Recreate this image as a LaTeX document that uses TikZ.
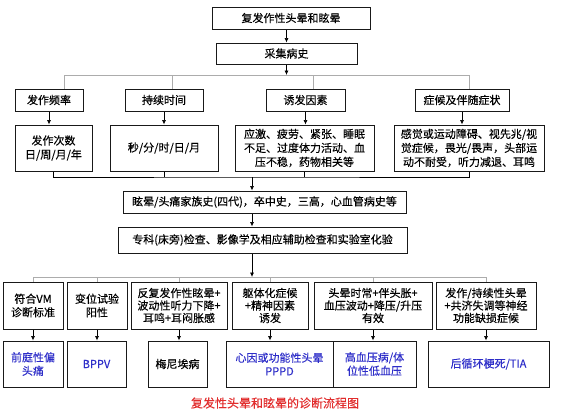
\documentclass[tikz,border=0pt]{standalone}
\usepackage{fontspec}
\setmainfont{Noto Sans CJK SC}[FakeBold=0.3]
\usetikzlibrary{arrows.meta}
\definecolor{zdblue}{RGB}{45,45,200}
\definecolor{btred}{RGB}{225,45,45}

\begin{document}
\begin{tikzpicture}[x=1pt,y=-1pt,
    kuang/.style={draw=black!90,line width=1pt,align=center,inner sep=1pt,
        font=\fontsize{11}{13.5}\selectfont},
    jt/.style={-{Latex[length=4.5pt,width=4pt]},line width=0.7pt},
    huixian/.style={gray!65,line width=0.7pt}]
    \useasboundingbox (0,0) rectangle (581,415);

    % 顶部
    \node[kuang,minimum width=158,minimum height=22] (top) at (291,18) {复发作性头晕和眩晕};
    \node[kuang,minimum width=141,minimum height=21] (cj) at (286.5,53.5) {采集病史};
    \draw[jt] (cj.north |- top.south) -- (cj.north);

    % 第一条分支线
    \coordinate (t1) at (64,75);
    \coordinate (t2) at (172,75);
    \coordinate (t3) at (313,75);
    \coordinate (t4) at (469,75);
    \draw[huixian] (t1) -- (t4);
    \draw[jt] (cj.south) -- (cj.south |- t1);

    % 病史四项
    \node[kuang,minimum width=68,minimum height=22] (pl) at (49,100) {发作频率};
    \node[kuang,minimum width=78,minimum height=22] (sj) at (164,100) {持续时间};
    \node[kuang,minimum width=79,minimum height=22] (yf) at (305.5,100) {诱发因素};
    \node[kuang,minimum width=94,minimum height=22] (zh) at (462,100) {症候及伴随症状};
    \draw[huixian] (t1) -- (t1 |- pl.north);
    \draw[huixian] (t2) -- (t2 |- sj.north);
    \draw[huixian] (t3) -- (t3 |- yf.north);
    \draw[huixian] (t4) -- (t4 |- zh.north);

    % 具体内容
    \node[kuang,minimum width=77,minimum height=46,font=\fontsize{11}{14}\selectfont] (cs) at (53.5,148) {发作次数\\日/周/月/年};
    \node[kuang,minimum width=108,minimum height=46] (fs) at (164,148) {秒/分/时/日/月};
    \node[kuang,minimum width=139,minimum height=46,font=\fontsize{11}{14}\selectfont] (yj) at (304.5,148) {应激、疲劳、紧张、睡眠\\不足、过度体力活动、血\\压不稳，药物相关等};
    \node[kuang,minimum width=150,minimum height=46,font=\fontsize{11}{14}\selectfont] (gj) at (469,148) {感觉或运动障碍、视先兆/视\\觉症候，畏光/畏声，头部运\\动不耐受，听力减退、耳鸣};
    \draw[jt] (pl.south) -- (pl.south |- cs.north);
    \draw[jt] (sj.south) -- (sj.south |- fs.north);
    \draw[jt] (yf.south) -- (yf.south |- yj.north);
    \draw[jt] (zh.south) -- (zh.south |- gj.north);

    % 汇总线
    \coordinate (m1) at (252,177);
    \draw[line width=0.8pt] (cs.south) |- (m1) -| (gj.south);
    \draw[line width=0.8pt] (fs.south) -- (fs.south |- m1);
    \draw[line width=0.8pt] (yj.south) -- (yj.south |- m1);

    % 家族史与检查
    \node[kuang,minimum width=283,minimum height=22] (jz) at (264.5,202) {眩晕/头痛家族史(四代)，卒中史，三高，心血管病史等};
    \node[kuang,minimum width=289,minimum height=26] (zk) at (262.5,240) {专科(床旁)检查、影像学及相应辅助检查和实验室化验};
    \draw[jt] (m1) -- (m1 |- jz.north);
    \draw[jt] (m1 |- jz.south) -- (m1 |- zk.north);

    % 第二条分支线
    \coordinate (b2) at (252,277);
    \draw[jt] (m1 |- zk.south) -- (b2);

    % 诊断依据
    \node[kuang,minimum width=60,minimum height=47] (vm) at (33,305.5) {符合VM\\诊断标准};
    \node[kuang,minimum width=60,minimum height=47] (bw) at (97,305.5) {变位试验\\阳性};
    \node[kuang,minimum width=96,minimum height=47,font=\fontsize{11}{12.5}\selectfont] (fz) at (179,305.5) {反复发作性眩晕+\\波动性听力下降+\\耳鸣+耳闷胀感};
    \node[kuang,minimum width=76,minimum height=47,font=\fontsize{11}{12.5}\selectfont] (qt) at (270,305.5) {躯体化症候\\+精神因素\\诱发};
    \node[kuang,minimum width=118,minimum height=47,font=\fontsize{11}{12.5}\selectfont] (ty) at (373,305.5) {头晕时常+伴头胀+\\血压波动+降压/升压\\有效};
    \node[kuang,minimum width=100,minimum height=47,font=\fontsize{11}{12.5}\selectfont] (cx) at (486,305.5) {发作/持续性头晕\\+共济失调等神经\\功能缺损症候};
    \draw[huixian] (vm.north |- b2) -- (cx.north |- b2);
    \draw[huixian] (vm.north |- b2) -- (vm.north);
    \draw[huixian] (bw.north |- b2) -- (bw.north);
    \draw[huixian] (fz.north |- b2) -- (fz.north);
    \draw[huixian] (qt.north |- b2) -- (qt.north);
    \draw[huixian] (ty.north |- b2) -- (ty.north);
    \draw[huixian] (cx.north |- b2) -- (cx.north);

    % 诊断结果
    \node[kuang,minimum width=60,minimum height=46,text=zdblue] (qp) at (33,364) {前庭性偏\\头痛};
    \node[kuang,minimum width=59,minimum height=46,text=zdblue] (bp) at (96.5,364) {BPPV};
    \node[kuang,minimum width=59,minimum height=46] (mn) at (177.5,364) {梅尼埃病};
    \node[kuang,minimum width=107,minimum height=46,text=zdblue] (xy) at (279.5,364) {心因或功能性头晕\\PPPD};
    \node[kuang,minimum width=83,minimum height=46,text=zdblue] (gx) at (374.5,364) {高血压病/体\\位性低血压};
    \node[kuang,minimum width=121,minimum height=46,text=zdblue] (tia) at (488.5,364) {后循环梗死/TIA};
    \draw[jt] (vm.south) -- (vm.south |- qp.north);
    \draw[jt] (bw.south) -- (bw.south |- bp.north);
    \draw[jt] (fz.south) -- (fz.south |- mn.north);
    \draw[jt] (qt.south) -- (qt.south |- xy.north);
    \draw[jt] (ty.south) -- (ty.south |- gx.north);
    \draw[jt] (cx.south) -- (cx.south |- tia.north);

    % 图题
    \node[text=btred,font=\fontsize{12}{14}\selectfont] (bt) at (275,403) {复发性头晕和眩晕的诊断流程图};
\end{tikzpicture}
\end{document}
